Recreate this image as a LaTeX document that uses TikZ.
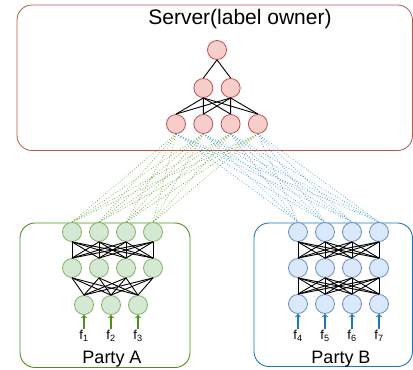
\documentclass[tikz,border=0pt]{standalone}
\usepackage{fontspec}
\setmainfont{Liberation Sans}
\usepackage{tikz}
\usetikzlibrary{arrows}
\usetikzlibrary{positioning}
\definecolor{srvfill}{HTML}{F8CECC}
\definecolor{srvline}{HTML}{B85450}
\definecolor{pafill}{HTML}{D5E8D4}
\definecolor{paline}{HTML}{82B366}
\definecolor{pbfill}{HTML}{DAE8FC}
\definecolor{pbline}{HTML}{6C8EBF}
\definecolor{pabox}{HTML}{4D8F1F}
\definecolor{pbbox}{HTML}{1C78BA}
\definecolor{padot}{HTML}{62A63A}
\definecolor{pbdot}{HTML}{3C9AD6}
\tikzset{feat/.style={inner sep=1pt, anchor=north, font=\fontsize{13}{15}\selectfont}}
\tikzset{lbl/.style={anchor=base, font=\fontsize{18}{21}\selectfont}}

\begin{document}
\begin{tikzpicture}[x=1pt,y=-1pt,->,>=to,semithick]
\tikzstyle{srv} = [circle, draw=srvline, fill=srvfill, line width=0.8pt, minimum size=19pt, inner sep=0pt, on grid, node distance=38pt and 27.3pt]
\tikzstyle{pa}  = [circle, draw=paline, fill=pafill, line width=0.8pt, minimum size=19pt, inner sep=0pt, on grid, node distance=36pt and 27pt]
\tikzstyle{pb}  = [circle, draw=pbline, fill=pbfill, line width=0.8pt, minimum size=19pt, inner sep=0pt, on grid, node distance=36pt and 27pt]
\tikzstyle{wire} = [-, black, line width=0.9pt]
\tikzstyle{linkA} = [-, padot, dotted, line width=0.7pt]
\tikzstyle{linkB} = [-, pbdot, dotted, line width=0.7pt]

\useasboundingbox (0,0) rectangle (413,370);

% containers
\draw[-, srvline, line width=0.8pt, rounded corners=15pt] (17,5) rectangle (412.5,150.5);
\draw[-, pabox, line width=0.9pt, rounded corners=15pt] (20,223) rectangle (190,367.5);
\draw[-, pbbox, line width=0.9pt, rounded corners=15pt] (254,223) rectangle (412.5,366.5);

\node (title) at (240,19) {\fontsize{21}{25}\selectfont Server(label owner)};

% server
\node[srv] (S0)  at (217,50) {};
\node[srv] (S1A) [below left = 38pt and 13.65pt of S0] {};
\node[srv] (S1B) [right = of S1A] {};
\node[srv] (S2A) at (176,124) {};
\node[srv] (S2B) [right = of S2A] {};
\node[srv] (S2C) [right = of S2B] {};
\node[srv] (S2D) [right = of S2C] {};

% party A
\node[pa] (A0A) at (72,232) {};
\node[pa] (A0B) [right = of A0A] {};
\node[pa] (A0C) [right = of A0B] {};
\node[pa] (A0D) [right = of A0C] {};
\node[pa] (A1A) [below = of A0A] {};
\node[pa] (A1B) [below = of A0B] {};
\node[pa] (A1C) [below = of A0C] {};
\node[pa] (A1D) [below = of A0D] {};
\node[pa] (A2A) at (84,305) {};
\node[pa] (A2B) [right = of A2A] {};
\node[pa] (A2C) [right = of A2B] {};

% party B
\node[pb] (B0A) at (298,232) {};
\node[pb] (B0B) [right = of B0A] {};
\node[pb] (B0C) [right = of B0B] {};
\node[pb] (B0D) [right = of B0C] {};
\node[pb] (B1A) [below = of B0A] {};
\node[pb] (B1B) [below = of B0B] {};
\node[pb] (B1C) [below = of B0C] {};
\node[pb] (B1D) [below = of B0D] {};
\node[pb] (B2A) [below = of B1A] {};
\node[pb] (B2B) [below = of B1B] {};
\node[pb] (B2C) [below = of B1C] {};
\node[pb] (B2D) [below = of B1D] {};

% features
\node[feat] (F1) at (84,329)  {f\textsubscript{1}};
\node[feat] (F2) at (111,329) {f\textsubscript{2}};
\node[feat] (F3) at (138,329) {f\textsubscript{3}};
\node[feat] (F4) at (298,329) {f\textsubscript{4}};
\node[feat] (F5) at (325,329) {f\textsubscript{5}};
\node[feat] (F6) at (352,329) {f\textsubscript{6}};
\node[feat] (F7) at (379,329) {f\textsubscript{7}};

\node[lbl] (PA) at (112,363) {Party A};
\node[lbl] (PB) at (341,363) {Party B};

\path[pabox, line width=1.1pt]
   (F1) edge (A2A)
   (F2) edge (A2B)
   (F3) edge (A2C);
\path[pbbox, line width=1.1pt]
   (F4) edge (B2A)
   (F5) edge (B2B)
   (F6) edge (B2C)
   (F7) edge (B2D);

% layers
\draw[wire] (S0.south) -- (S1A.north);
\draw[wire] (S0.south) -- (S1B.north);
\foreach \u in {A,B}
  \foreach \v in {A,B,C,D}
    \draw[wire] (S1\u.south) -- (S2\v.north);

\foreach \u in {A,B,C,D}
  \foreach \v in {A,B,C,D} {
    \draw[wire] (A0\u.south) -- (A1\v.north);
    \draw[wire] (B0\u.south) -- (B1\v.north);
    \draw[wire] (B1\u.south) -- (B2\v.north);
  }
\foreach \u in {A,B,C,D}
  \foreach \v in {A,B,C}
    \draw[wire] (A1\u.south) -- (A2\v.north);

% links to the server
\foreach \u in {A,B,C,D}
  \foreach \v in {A,B,C,D} {
    \draw[linkA] (S2\u.south) -- (A0\v.north);
    \draw[linkB] (S2\u.south) -- (B0\v.north);
  }

\end{tikzpicture}
\end{document}
